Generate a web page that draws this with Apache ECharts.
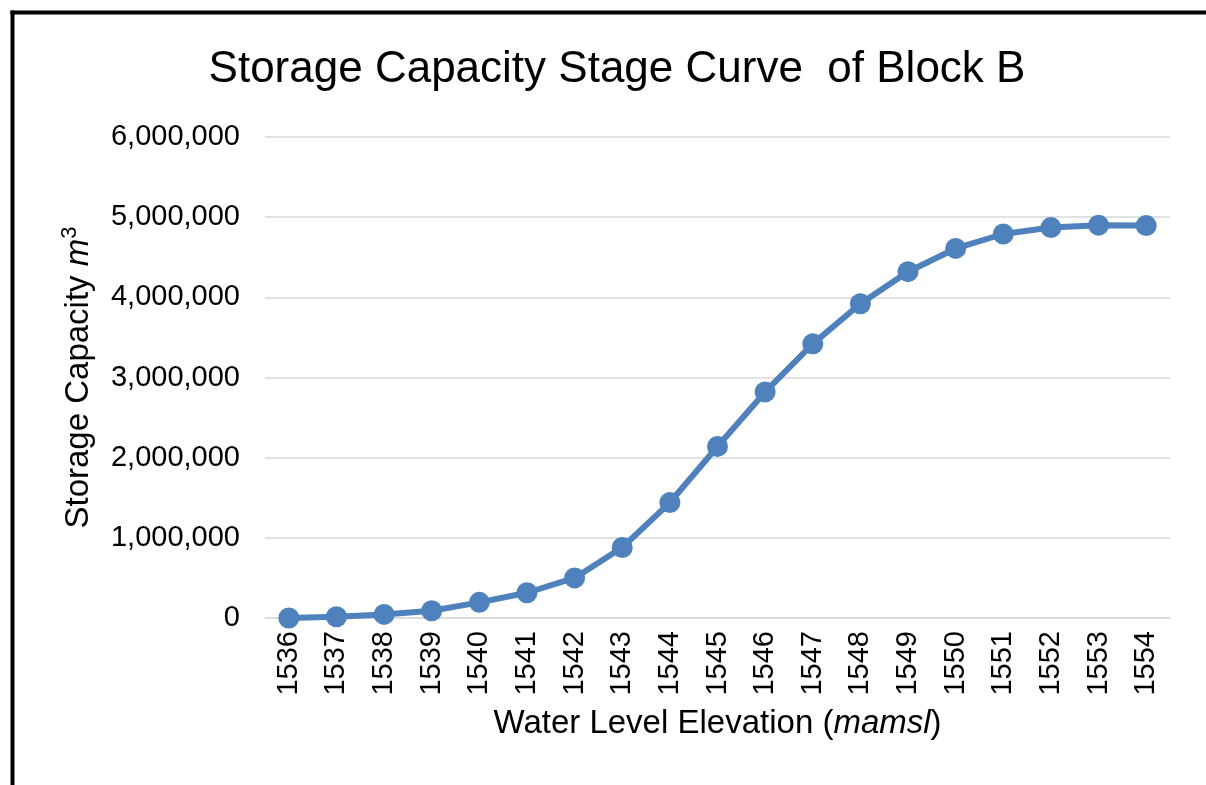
<!DOCTYPE html>
<html>
<head>
<meta charset="utf-8">
<script src="https://cdn.jsdelivr.net/npm/echarts@6/dist/echarts.min.js"></script>
<style>
  html, body { margin: 0; padding: 0; background: #ffffff; }
  #chart { width: 1206px; height: 785px; }
</style>
</head>
<body>
<div id="chart"></div>
<script>
// Water level elevations (m above mean sea level)
const elevations = ['1536', '1537', '1538', '1539', '1540', '1541', '1542', '1543', '1544', '1545',
                    '1546', '1547', '1548', '1549', '1550', '1551', '1552', '1553', '1554'];
// Cumulative storage capacity (m3) at each elevation
const storage = [0, 15000, 45000, 90000, 195000, 315000, 500000, 880000, 1440000, 2140000,
                 2820000, 3420000, 3920000, 4320000, 4610000, 4790000, 4870000, 4900000, 4895000];
// Value-axis range
const yMin = 0;
const yMax = 6000000;
const yStep = 1000000;

const FONT = '"Liberation Sans", Arial, sans-serif';
const BLUE = '#4f81bd';

const chart = echarts.init(document.getElementById('chart'), null, { renderer: 'canvas' });

chart.setOption({
  backgroundColor: '#ffffff',
  animation: false,
  title: {
    text: 'Storage Capacity Stage Curve  of Block B',
    left: 612,
    top: 43,
    textAlign: 'center',
    textStyle: { fontFamily: FONT, fontSize: 44, fontWeight: 'normal', color: '#000000' }
  },
  grid: { left: 265, right: 36, top: 137, bottom: 167 },
  xAxis: {
    type: 'category',
    data: elevations,
    boundaryGap: true,
    axisLine: { show: true, lineStyle: { color: '#d9d9d9', width: 1.5 } },
    axisTick: { show: false },
    axisLabel: {
      rotate: 90, margin: 13, interval: 0,
      fontFamily: FONT, fontSize: 29, color: '#000000'
    },
    name: 'Water Level Elevation ({it|mamsl})',
    nameLocation: 'middle',
    nameGap: 89,
    nameTextStyle: {
      fontFamily: FONT, fontSize: 33, color: '#000000',
      rich: { it: { fontFamily: FONT, fontSize: 33, fontStyle: 'italic', color: '#000000' } }
    }
  },
  yAxis: {
    type: 'value',
    min: yMin, max: yMax, interval: yStep,
    axisLine: { show: false },
    axisTick: { show: false },
    splitLine: { show: true, lineStyle: { color: '#d9d9d9', width: 1.5 } },
    axisLabel: {
      margin: 25,
      fontFamily: FONT, fontSize: 29, color: '#000000',
      formatter: v => v.toLocaleString('en-US')
    },
    name: 'Storage Capacity {it|m}{sup|3}',
    nameLocation: 'middle',
    nameGap: 167,
    nameRotate: 90,
    nameTextStyle: {
      fontFamily: FONT, fontSize: 33, color: '#000000', lineHeight: 39,
      rich: {
        it: { fontFamily: FONT, fontSize: 33, fontStyle: 'italic', color: '#000000', lineHeight: 39 },
        sup: { fontFamily: FONT, fontSize: 22, color: '#000000', verticalAlign: 'top', lineHeight: 39 }
      }
    }
  },
  series: [{
    type: 'line',
    data: storage,
    symbol: 'circle',
    symbolSize: 21,
    lineStyle: { color: BLUE, width: 6 },
    itemStyle: { color: BLUE },
    z: 3
  }],
  graphic: [
    { type: 'line', shape: { x1: 12.5, y1: 10.5, x2: 12.5, y2: 785 }, style: { stroke: '#000000', lineWidth: 4 } },
    { type: 'line', shape: { x1: 10.5, y1: 12.5, x2: 1206, y2: 12.5 }, style: { stroke: '#000000', lineWidth: 4 } }
  ]
});
</script>
</body>
</html>
